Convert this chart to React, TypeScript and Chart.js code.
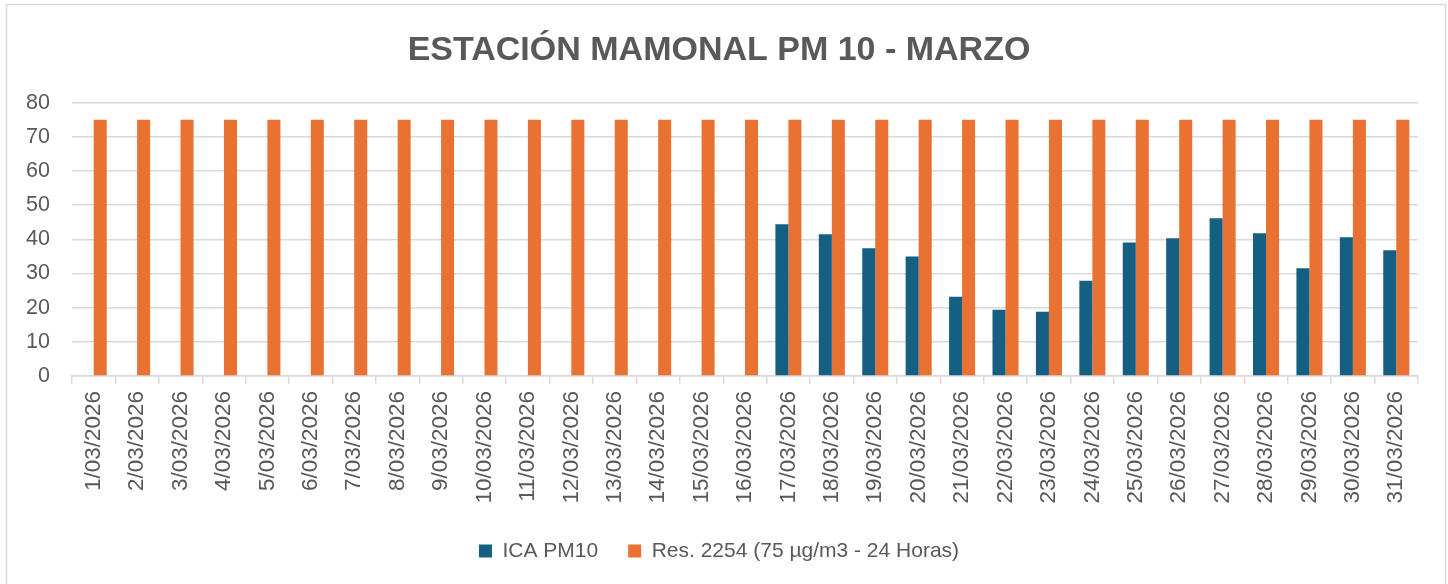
import React, { useEffect, useRef } from "react";
import { Chart, registerables } from "chart.js";

Chart.register(...registerables);

const categories: string[] = [
  "1/03/2026", "2/03/2026", "3/03/2026", "4/03/2026", "5/03/2026", "6/03/2026", "7/03/2026", "8/03/2026",
  "9/03/2026", "10/03/2026", "11/03/2026", "12/03/2026", "13/03/2026", "14/03/2026", "15/03/2026", "16/03/2026",
  "17/03/2026", "18/03/2026", "19/03/2026", "20/03/2026", "21/03/2026", "22/03/2026", "23/03/2026", "24/03/2026",
  "25/03/2026", "26/03/2026", "27/03/2026", "28/03/2026", "29/03/2026", "30/03/2026", "31/03/2026",
];

const icaPm10: (number | null)[] = [
  null, null, null, null, null, null, null, null,
  null, null, null, null, null, null, null, null,
  44.4, 41.5, 37.4, 35.0, 23.2, 19.4, 18.8, 27.9,
  39.1, 40.3, 46.2, 41.8, 31.5, 40.6, 36.8,
];

const res2254: number[] = [
  75, 75, 75, 75, 75, 75, 75, 75, 75, 75, 75, 75, 75, 75, 75, 75,
  75, 75, 75, 75, 75, 75, 75, 75, 75, 75, 75, 75, 75, 75, 75,
];

const yTicks: number[] = [0, 10, 20, 30, 40, 50, 60, 70, 80];

const FONT = "'Liberation Sans', Arial, sans-serif";
const TEXT = "#595959";
const GRID = "#d9d9d9";

const borderPlugin = {
  id: "outerBorder",
  beforeDraw(chart: any) {
    const ctx = chart.ctx;
    ctx.save();
    ctx.fillStyle = "#ffffff";
    ctx.fillRect(0, 0, chart.width, chart.height);
    ctx.strokeStyle = GRID;
    ctx.lineWidth = 1.5;
    ctx.strokeRect(6.5, 4.5, 1439, 640);
    ctx.restore();
  },
};

export default function App() {
  const ref = useRef<HTMLCanvasElement | null>(null);

  useEffect(() => {
    if (!ref.current) return;
    const chart = new Chart(ref.current, {
      type: "bar",
      data: {
        labels: categories,
        datasets: [
          {
            label: "ICA PM10",
            data: icaPm10,
            backgroundColor: "#156082",
            borderWidth: 0,
            barPercentage: 1,
            categoryPercentage: 0.6,
          },
          {
            label: "Res. 2254 (75 µg/m3 - 24 Horas)",
            data: res2254,
            backgroundColor: "#E97132",
            borderWidth: 0,
            barPercentage: 1,
            categoryPercentage: 0.6,
          },
        ],
      },
      options: {
        animation: false,
        responsive: false,
        maintainAspectRatio: false,
        layout: { padding: { left: 20, right: 30, top: 20, bottom: 12.5 } },
        plugins: {
          title: {
            display: true,
            text: "ESTACIÓN MAMONAL PM 10 - MARZO",
            color: TEXT,
            font: { family: FONT, size: 34, weight: "bold" },
            padding: { top: 10, bottom: 32 },
          },
          legend: {
            position: "bottom",
            labels: {
              color: TEXT,
              font: { family: FONT, size: 21 },
              boxWidth: 13,
              boxHeight: 13,
              padding: 30,
            },
          },
          tooltip: { enabled: false },
        },
        scales: {
          x: {
            grid: {
              display: true,
              drawOnChartArea: false,
              drawTicks: true,
              tickLength: 8,
              color: GRID,
              lineWidth: 1.5,
              offset: true,
            },
            border: { display: true, color: GRID, width: 1.5 },
            ticks: {
              color: TEXT,
              font: { family: FONT, size: 22.5 },
              minRotation: 90,
              maxRotation: 90,
              autoSkip: false,
              padding: 7,
            },
          },
          y: {
            min: 0,
            max: 80,
            afterBuildTicks: (axis: any) => {
              axis.ticks = yTicks.map((v) => ({ value: v }));
            },
            afterFit: (axis: any) => {
              axis.width = 52;
            },
            grid: { color: GRID, lineWidth: 1.5, drawTicks: false },
            border: { display: false },
            ticks: {
              color: TEXT,
              font: { family: FONT, size: 21.5 },
              padding: 22,
            },
          },
        },
      },
      plugins: [borderPlugin],
    });
    return () => chart.destroy();
  }, []);

  return (
    <canvas
      ref={ref}
      width={1448}
      height={584}
      style={{ position: "fixed", left: 0, top: 0, width: 1448, height: 584 }}
    />
  );
}
